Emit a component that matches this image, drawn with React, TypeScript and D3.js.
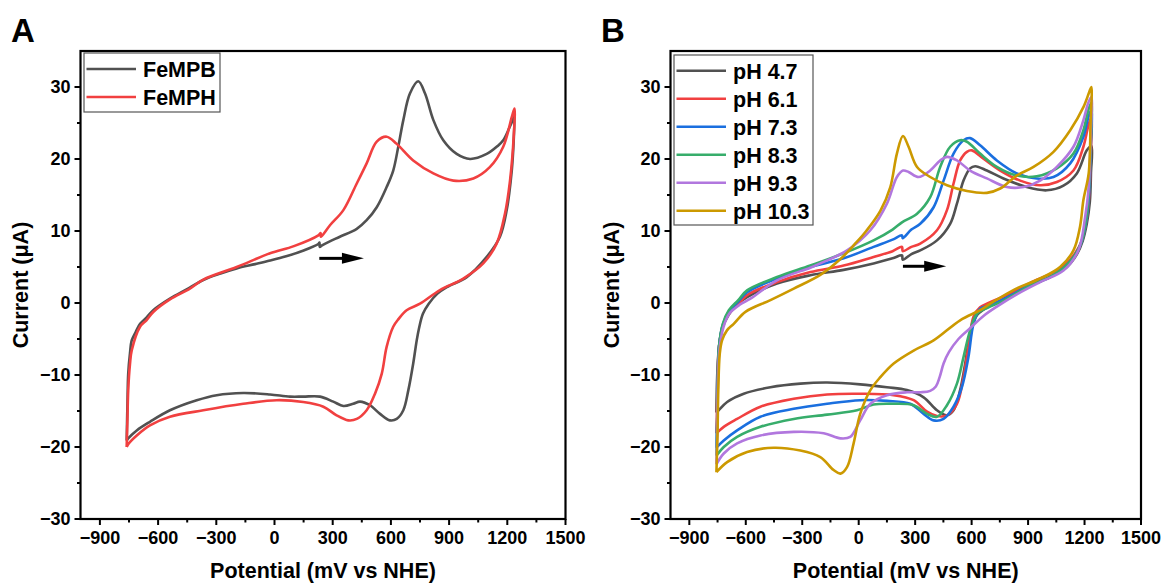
import React from 'react';
import * as d3 from 'd3';

type P = [number, number];

// ---------- axes ----------
const xTickValues = [-900, -600, -300, 0, 300, 600, 900, 1200, 1500];
const xMinorValues = [-750, -450, -150, 150, 450, 750, 1050, 1350];
const yTickValues = [-30, -20, -10, 0, 10, 20, 30];
const yMinorValues = [-25, -15, -5, 5, 15, 25];
const xDomain: P = [-1000, 1500];
const yDomain: P = [-30, 35];

// ---------- Panel A ----------
const namesA = ['FeMPB', 'FeMPH'];
const colorsA = ['#515151', '#F14040'];

const feMPB: P[] = [
  [-762, -19.1], [-758, -14], [-754, -9.8], [-745, -7], [-736, -5.2], [-715, -4], [-693, -2.9], [-659, -2.0],
  [-625, -1.0], [-539, 0.6], [-453, 1.9], [-367, 3.2], [-278, 4.1], [-195, 4.8], [-100, 5.4], [-23, 5.9],
  [60, 6.5], [150, 7.3], [226, 8.2], [232, 8.4], [233, 7.8], [245, 8.0], [280, 8.5], [337, 9.2], [424, 10.3],
  [475, 11.5], [527, 13.3], [578, 16.1], [612, 18.4], [638, 21.7], [664, 25.4], [698, 29.1], [741, 30.8],
  [776, 29.1], [819, 25.4], [870, 22.6], [939, 20.7], [1008, 20.0], [1094, 20.7], [1150, 21.8], [1179, 22.6],
  [1210, 24.3], [1231, 25.6], [1237, 26.3],
  [1232, 22], [1223, 18.4], [1197, 12.9], [1162, 9.2], [1094, 6.4], [991, 3.6], [888, 2.2], [840, 1.3],
  [795, -0.1], [765, -1.5], [745, -3.5], [733, -5.2], [715, -8.4], [690, -12.1], [664, -14.9], [630, -16.1],
  [595, -16.3], [544, -15.4], [492, -14.2], [441, -13.7], [406, -14.0], [355, -14.3], [303, -13.7], [235, -13.0],
  [148, -13.0], [80, -13.0], [-23, -12.7], [-161, -12.5], [-298, -12.8], [-401, -13.5], [-539, -14.9],
  [-642, -16.5], [-710, -17.7], [-754, -18.8], [-762, -19.1],
];

const feMPH: P[] = [
  [-762, -20.0], [-758, -16], [-754, -12.1], [-745, -8.5], [-736, -6.6], [-693, -3.3], [-660, -2.4], [-625, -1.25],
  [-539, 0.5], [-436, 2.0], [-367, 3.25], [-195, 5.0], [-23, 6.9], [100, 7.9], [226, 9.4], [238, 9.7],
  [239, 9.2], [286, 10.8], [355, 12.9], [424, 16.6], [475, 19.4], [527, 22.4], [578, 23.1], [630, 22.1],
  [715, 19.8], [819, 18.0], [922, 17.0], [1025, 17.3], [1111, 18.9], [1179, 21.7], [1223, 25.8], [1237, 27.0],
  [1233, 23.1], [1214, 17.0], [1188, 12.4], [1145, 8.25], [1076, 5.5], [973, 3.4], [853, 1.8], [750, -0.1],
  [681, -1.0], [640, -2.2], [612, -3.3], [578, -6.1], [553, -9.8], [518, -12.6], [475, -14.9], [424, -16.1],
  [380, -16.3], [320, -15.6], [252, -14.4], [148, -13.75], [11, -13.5], [-161, -14.0], [-367, -14.9],
  [-539, -15.8], [-642, -17.0], [-710, -18.4], [-754, -19.6], [-762, -20.0],
];

// ---------- Panel B ----------
const namesB = ['pH 4.7', 'pH 6.1', 'pH 7.3', 'pH 8.3', 'pH 9.3', 'pH 10.3'];
const colorsB = ['#515151', '#F14040', '#1A6FDF', '#37AD6B', '#B177DE', '#CC9900'];

const ph47: P[] = [
  [-756, -15.2], [-754, -12], [-750, -9], [-742, -6], [-725, -3.5], [-690, -1.6], [-650, -0.3], [-593, 0.8],
  [-434, 2.7], [-257, 3.85], [-80, 4.6], [79, 5.5], [180, 6.2], [230, 6.6], [234, 6.0], [280, 6.8],
  [327, 7.3], [416, 8.7], [486, 11.0], [522, 13.8], [557, 17.0], [592, 18.7], [619, 19.0], [681, 18.4],
  [769, 17.3], [893, 16.1], [999, 15.65], [1088, 16.3], [1159, 18.0], [1212, 21.2], [1236, 21.8],
  [1234, 18], [1228, 14], [1212, 11], [1190, 8.6], [1160, 6.8], [1106, 5.0], [1017, 3.6], [928, 2.7],
  [840, 1.6], [760, 0.4], [716, -0.1], [665, -0.9], [628, -1.7], [592, -4.25], [566, -8.4], [539, -12.1],
  [504, -14.9], [469, -15.6], [416, -14.9], [345, -13.1], [256, -12.1], [150, -11.7], [8, -11.3],
  [-168, -11.05], [-310, -11.2], [-469, -11.7], [-611, -12.6], [-699, -13.75], [-744, -14.9], [-756, -15.2],
];

const ph61: P[] = [
  [-756, -18.1], [-752, -14], [-749, -10], [-742, -6], [-722, -3.3], [-690, -1.5], [-640, -0.2], [-593, 1.1],
  [-434, 2.9], [-257, 4.3], [-80, 5.2], [79, 6.4], [180, 7.2], [230, 7.8], [234, 7.2], [280, 7.8],
  [327, 8.25], [416, 10.1], [469, 12.9], [504, 16.6], [539, 19.8], [575, 21.0], [601, 21.2], [663, 20.05],
  [752, 18.4], [858, 17.0], [964, 16.35], [1053, 16.8], [1141, 18.4], [1194, 21.7], [1220, 24.6], [1236, 25.8],
  [1232, 20], [1225, 15], [1210, 11.5], [1185, 8.6], [1150, 6.9], [1100, 5.4], [1017, 4.0], [928, 3.0],
  [840, 1.8], [760, 0.8], [690, 0.0], [645, -0.6], [610, -1.9], [583, -6.1], [557, -10.3], [522, -14.0],
  [469, -15.6], [416, -15.7], [363, -15.1], [292, -13.5], [186, -12.8], [8, -12.6], [-168, -12.7],
  [-345, -13.3], [-522, -14.4], [-646, -16.1], [-717, -17.2], [-756, -18.1],
];

const ph73: P[] = [
  [-756, -20.1], [-752, -16], [-749, -11], [-742, -6], [-722, -3.0], [-690, -1.2], [-640, 0.2], [-593, 1.5],
  [-434, 3.4], [-257, 5.0], [-80, 6.2], [79, 7.8], [180, 8.8], [230, 9.4], [234, 9.0], [280, 10.2],
  [327, 11.0], [398, 13.3], [451, 17.0], [504, 20.75], [557, 22.6], [592, 22.9], [645, 21.9], [734, 19.8],
  [840, 18.0], [946, 17.3], [1035, 17.5], [1124, 19.4], [1194, 23.1], [1220, 25.8], [1236, 26.8],
  [1232, 21], [1225, 15.5], [1210, 11.5], [1183, 8.4], [1148, 6.6], [1095, 5.0], [1010, 3.5], [920, 2.6],
  [840, 1.5], [760, 0.4], [700, -0.3], [645, -0.8], [610, -2.9], [583, -7.5], [548, -11.7], [504, -14.4],
  [451, -16.1], [398, -16.3], [345, -15.4], [274, -14.0], [150, -13.6], [8, -13.5], [-168, -14.0],
  [-345, -14.7], [-522, -15.8], [-646, -17.7], [-717, -19.1], [-756, -20.1],
];

const ph83: P[] = [
  [-756, -21.2], [-752, -17], [-749, -11], [-742, -6], [-722, -2.9], [-690, -1.0], [-640, 0.4], [-593, 1.75],
  [-434, 3.6], [-257, 5.2], [-80, 6.9], [79, 8.7], [180, 10.2], [230, 11.2], [310, 12.4], [380, 14.7],
  [433, 18.9], [486, 21.7], [539, 22.6], [575, 22.4], [645, 20.75], [734, 18.9], [840, 17.7], [946, 17.6],
  [1053, 18.7], [1141, 20.75], [1194, 24.0], [1220, 26.8], [1236, 27.8],
  [1232, 22], [1224, 16], [1208, 11.5], [1180, 8.2], [1140, 6.3], [1085, 4.8], [1000, 3.4], [910, 2.4],
  [840, 1.4], [760, 0.2], [690, -0.6], [628, -1.5], [592, -3.8], [557, -7.5], [522, -11.2], [469, -14.2],
  [416, -15.8], [363, -15.4], [292, -14.2], [186, -14.0], [79, -14.1], [-9, -14.9], [-168, -15.5],
  [-345, -16.1], [-522, -17.2], [-646, -18.6], [-717, -20.0], [-756, -21.2],
];

const ph93: P[] = [
  [-756, -22.4], [-752, -18], [-749, -12], [-740, -6.5], [-718, -3.3], [-685, -1.4], [-630, -0.2], [-575, 0.6],
  [-434, 3.15], [-257, 4.9], [-204, 5.5], [-62, 7.3], [62, 10.1], [150, 13.8], [203, 17.5], [236, 18.4],
  [265, 18.2], [318, 17.5], [380, 18.4], [433, 19.8], [469, 20.3], [522, 19.8], [592, 18.4], [681, 17.3],
  [787, 16.1], [876, 16.1], [964, 17.0], [1053, 18.9], [1141, 21.7], [1194, 25.4], [1220, 27.8], [1236, 28.6],
  [1232, 23], [1222, 16], [1203, 11.9], [1167, 7.3], [1088, 4.5], [964, 2.9], [840, 1.2], [734, -0.5],
  [663, -1.8], [592, -3.5], [530, -5.0], [480, -6.8], [451, -8.4], [430, -10.3], [410, -11.6], [380, -12.2],
  [330, -12.4], [256, -12.4], [150, -12.8], [62, -14.0], [8, -16.3], [-45, -18.6], [-97, -18.8],
  [-186, -18.1], [-345, -17.9], [-522, -18.4], [-646, -19.5], [-717, -20.9], [-756, -22.4],
];

const ph103: P[] = [
  [-756, -23.5], [-750, -18], [-746, -12], [-738, -7], [-726, -5.2], [-700, -3.8], [-664, -2.9], [-600, -1.2],
  [-469, 0.4], [-345, 2.0], [-204, 3.9], [-97, 6.1], [-20, 8.2], [40, 10.0], [115, 12.8], [168, 16.1],
  [203, 20.75], [235, 23.2], [265, 21.7], [310, 18.9], [380, 17.5], [469, 16.35], [575, 15.55], [681, 15.3],
  [752, 15.9], [840, 17.7], [929, 18.9], [1035, 21.0], [1124, 24.0], [1194, 27.2], [1225, 29.3], [1236, 30.0],
  [1232, 25], [1222, 18], [1194, 14.3], [1176, 10.6], [1141, 7.3], [1070, 5.0], [964, 3.4], [822, 1.8],
  [699, -0.1], [645, -1.0], [539, -2.4], [398, -5.2], [292, -6.6], [186, -8.4], [115, -10.3], [62, -12.1],
  [8, -15.4], [-27, -19.5], [-62, -22.8], [-97, -23.7], [-133, -23.2], [-204, -21.4], [-310, -20.5],
  [-452, -20.1], [-593, -20.7], [-699, -22.1], [-756, -23.5],
];

// scan-direction arrows: [xStart, xEnd, y]
const arrowA = [231, 461, 6.2];
const arrowB = [235, 465, 5.1];

const FONT = '"Liberation Sans", Arial, Helvetica, sans-serif';

interface PanelProps {
  left: number;
  right: number;
  top: number;
  bottom: number;
  series: P[][];
  names: string[];
  colors: string[];
  arrow: number[];
  letter: string;
  letterX: number;
  yTitleX: number;
  legend: { x: number; y: number; w: number; h: number; row0: number };
}

function Panel(p: PanelProps) {
  const xs = d3.scaleLinear().domain(xDomain).range([p.left, p.right]);
  const ys = d3.scaleLinear().domain(yDomain).range([p.bottom, p.top]);
  const line = d3
    .line<P>()
    .x((d) => xs(d[0]))
    .y((d) => ys(d[1]))
    .curve(d3.curveCatmullRom.alpha(0.5));
  const fmt = (v: number) => (v < 0 ? '\u2212' + Math.abs(v) : String(v));
  const ax0 = xs(p.arrow[0]);
  const ax1 = xs(p.arrow[1]);
  const ay = ys(p.arrow[2]);
  const midX = (p.left + p.right) / 2;
  const midY = (p.top + p.bottom) / 2;
  return (
    <g>
      <text x={p.letterX} y={42} fontSize={33} fontWeight="bold" fontFamily={FONT}>
        {p.letter}
      </text>
      {p.series.map((s, i) => (
        <path key={i} d={line(s) || ''} fill="none" stroke={p.colors[i]} strokeWidth={2.6} strokeLinejoin="round" />
      ))}
      {/* arrow */}
      <line x1={ax0} x2={ax1 - 14} y1={ay} y2={ay} stroke="#000" strokeWidth={3} />
      <path d={`M${ax1},${ay} L${ax1 - 22},${ay - 5.5} L${ax1 - 22},${ay + 5.5} Z`} fill="#000" />
      {/* frame */}
      <rect x={p.left} y={p.top} width={p.right - p.left} height={p.bottom - p.top} fill="none" stroke="#000" strokeWidth={2.2} />
      {/* x ticks */}
      {xTickValues.map((v) => (
        <g key={'xt' + v}>
          <line x1={xs(v)} x2={xs(v)} y1={p.bottom} y2={p.bottom + 6} stroke="#000" strokeWidth={2} />
          <text x={xs(v)} y={p.bottom + 25} textAnchor="middle" fontSize={18} fontWeight="bold" fontFamily={FONT}>
            {fmt(v)}
          </text>
        </g>
      ))}
      {xMinorValues.map((v) => (
        <line key={'xm' + v} x1={xs(v)} x2={xs(v)} y1={p.bottom} y2={p.bottom + 3.5} stroke="#000" strokeWidth={2} />
      ))}
      {/* y ticks */}
      {yTickValues.map((v) => (
        <g key={'yt' + v}>
          <line x1={p.left - 6} x2={p.left} y1={ys(v)} y2={ys(v)} stroke="#000" strokeWidth={2} />
          <text x={p.left - 10} y={ys(v) + 6.3} textAnchor="end" fontSize={18} fontWeight="bold" fontFamily={FONT}>
            {fmt(v)}
          </text>
        </g>
      ))}
      {yMinorValues.map((v) => (
        <line key={'ym' + v} x1={p.left - 3.5} x2={p.left} y1={ys(v)} y2={ys(v)} stroke="#000" strokeWidth={2} />
      ))}
      {/* axis titles */}
      <text x={midX} y={578} textAnchor="middle" fontSize={21.5} fontWeight="bold" fontFamily={FONT}>
        Potential (mV vs NHE)
      </text>
      <text
        transform={`translate(${p.yTitleX},${midY}) rotate(-90)`}
        textAnchor="middle"
        fontSize={21.5}
        fontWeight="bold"
        fontFamily={FONT}
      >
        Current (μA)
      </text>
      {/* legend */}
      <rect x={p.legend.x} y={p.legend.y} width={p.legend.w} height={p.legend.h} fill="#fff" stroke="#555" strokeWidth={1.2} />
      {p.names.map((n, i) => {
        const cy = p.legend.row0 + i * 28;
        return (
          <g key={n}>
            <line x1={p.legend.x + 2.5} x2={p.legend.x + 52} y1={cy} y2={cy} stroke={p.colors[i]} strokeWidth={2.6} />
            <text x={p.legend.x + 59} y={cy + 7.8} fontSize={21.5} fontWeight="bold" fontFamily={FONT}>
              {n}
            </text>
          </g>
        );
      })}
    </g>
  );
}

export default function App() {
  return (
    <svg
      width={1161}
      height={585}
      style={{ position: 'absolute', left: 0, top: 0, background: '#fff' }}
    >
      <rect x={0} y={0} width={1161} height={585} fill="#fff" />
      <Panel
        left={80.5}
        right={565.5}
        top={51}
        bottom={519}
        series={[feMPB, feMPH]}
        names={namesA}
        colors={colorsA}
        arrow={arrowA}
        letter="A"
        letterX={11}
        yTitleX={28}
        legend={{ x: 84, y: 53, w: 136, h: 59, row0: 69 }}
      />
      <Panel
        left={670.5}
        right={1141}
        top={51}
        bottom={519}
        series={[ph47, ph61, ph73, ph83, ph93, ph103]}
        names={namesB}
        colors={colorsB}
        arrow={arrowB}
        letter="B"
        letterX={601}
        yTitleX={619}
        legend={{ x: 674, y: 55, w: 139, h: 170, row0: 70.7 }}
      />
    </svg>
  );
}
